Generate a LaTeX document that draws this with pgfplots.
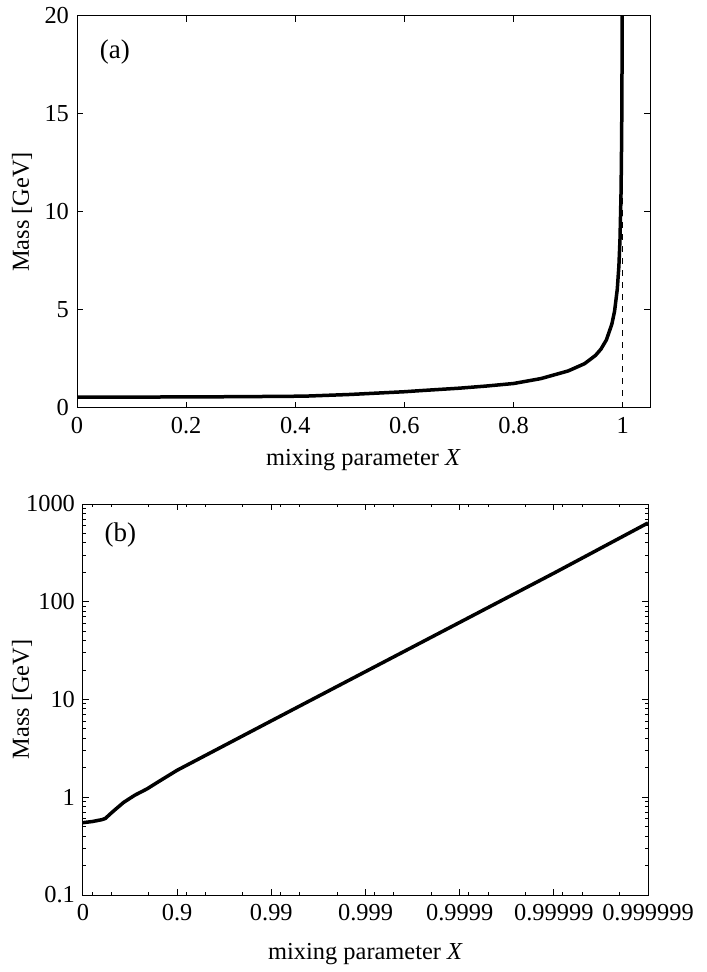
\documentclass[border=0pt]{standalone}
\usepackage{pgfplots}
\pgfplotsset{compat=1.18}
\usepackage{fontspec}
\setmainfont{Liberation Serif}

\pgfplotsset{
  massplot/.style={
    scale only axis,
    axis line style={line width=0.5pt},
    every tick/.style={line width=0.5pt, black},
    tick align=inside,
    major tick length=3pt,
    minor tick length=1.6pt,
    tick label style={font=\fontsize{12.2}{14}\selectfont},
    label style={font=\fontsize{12.2}{14}\selectfont},
    /pgf/number format/assume math mode=true,
    xticklabel style={yshift=-1pt},
    yticklabel style={xshift=-0.5pt},
  },
}

\begin{document}
\begin{tikzpicture}
\path[use as bounding box] (-38.5pt,8pt) rectangle (314.5pt,-478pt);

% (a) linear scale
\begin{axis}[
    massplot,
    at={(0pt,0pt)}, anchor=north west,
    width=286.5pt, height=196pt,
    xmin=0, xmax=1.05,
    ymin=0, ymax=20,
    xtick={0,0.2,0.4,0.6,0.8,1},
    xticklabels={0,0.2,0.4,0.6,0.8,1},
    ytick={0,5,10,15,20},
    xlabel={mixing parameter \textit{X}},
    ylabel={Mass [GeV]},
    xlabel style={at={(axis description cs:0.5,-0.133)}, anchor=center},
    ylabel style={at={(axis description cs:-0.096,0.5)}, anchor=center},
]
\addplot[black, thin, dashed] coordinates {(1,0) (1,20)};
\addplot[black, line width=1.75pt, line join=round] coordinates {
    (0,0.55) (0.1,0.557) (0.2,0.565) (0.3,0.578) (0.4,0.60) (0.42,0.607)
    (0.5,0.69) (0.6,0.83) (0.63,0.887) (0.7,1.01) (0.75,1.12) (0.8,1.25)
    (0.85,1.50) (0.9,1.89) (0.93,2.26) (0.95,2.68) (0.96,3.0) (0.97,3.47)
    (0.98,4.27) (0.985,4.93) (0.99,6.05) (0.993,7.25) (0.995,8.6)
    (0.997,11.1) (0.998,13.7) (0.9985,15.8) (0.999,19.4) (0.9992,21.8)
};
\node[font=\fontsize{13.5}{15}\selectfont] at (rel axis cs:0.066,0.908) {(a)};
\end{axis}

% (b) log scale, x = -log10(1-X)
\begin{axis}[
    massplot,
    at={(3pt,-244pt)}, anchor=north west,
    width=282.5pt, height=195.5pt,
    xmin=0, xmax=6,
    ymode=log, ymin=0.1, ymax=1000,
    xtick={0,1,2,3,4,5,6},
    xticklabels={0,0.9,0.99,0.999,0.9999,0.99999,0.999999},
    minor xtick={0.0969,0.301,0.699,1.0969,1.301,1.699,2.0969,2.301,2.699,
                 3.0969,3.301,3.699,4.0969,4.301,4.699,5.0969,5.301,5.699},
    ytick={0.1,1,10,100,1000},
    yticklabels={0.1,1,10,100,1000},
    minor ytick={0.2,0.3,0.4,0.5,0.6,0.7,0.8,0.9,2,3,4,5,6,7,8,9,
                 20,30,40,50,60,70,80,90,200,300,400,500,600,700,800,900},
    xlabel={mixing parameter \textit{X}},
    ylabel={Mass [GeV]},
    xlabel style={at={(axis description cs:0.5,-0.15)}, anchor=center},
    ylabel style={at={(axis description cs:-0.108,0.5)}, anchor=center},
]
\addplot[black, line width=1.75pt, line join=round] coordinates {
    (0,0.55) (0.1,0.565) (0.2,0.59) (0.237,0.607) (0.3,0.69) (0.35,0.76)
    (0.432,0.887) (0.55,1.05) (0.681,1.22) (0.8,1.44) (1,1.89) (2,6.05)
    (3,19.3) (4,61.5) (5,196) (6,640)
};
\node[font=\fontsize{13.5}{15}\selectfont] at (rel axis cs:0.066,0.92) {(b)};
\end{axis}
\end{tikzpicture}
\end{document}
